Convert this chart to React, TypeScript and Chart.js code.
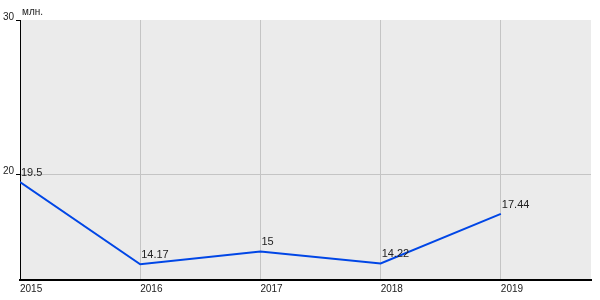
import React, { useEffect, useRef } from "react";
import { Chart, registerables } from "chart.js";

Chart.register(...registerables);

const years = [2015, 2016, 2017, 2018, 2019];
const values = [19.5, 14.17, 15, 14.22, 17.44];
const valueLabels = ["19.5", "14.17", "15", "14.22", "17.44"];
const yTicks = [20, 30];
const unitLabel = "млн.";

const FONT = "Liberation Sans, Arial, sans-serif";

export default function App() {
  const ref = useRef<HTMLCanvasElement | null>(null);
  useEffect(() => {
    document.body.style.margin = "0";
    const canvas = ref.current!;
    const bgPlugin = {
      id: "bg",
      beforeDraw(chart: any) {
        const { ctx, chartArea: a } = chart;
        ctx.save();
        ctx.fillStyle = "#ebebeb";
        ctx.fillRect(a.left, a.top, a.right - a.left, a.bottom - a.top);
        ctx.restore();
      },
      afterDatasetsDraw(chart: any) {
        const { ctx } = chart;
        const meta = chart.getDatasetMeta(0);
        ctx.save();
        ctx.font = "11px " + FONT;
        ctx.fillStyle = "#222";
        ctx.textAlign = "left";
        ctx.textBaseline = "alphabetic";
        meta.data.forEach((p: any, i: number) => {
          ctx.fillText(valueLabels[i], p.x + 1, p.y - 6);
        });
        ctx.font = "10px " + FONT;
        ctx.textBaseline = "middle";
        ctx.fillText(unitLabel, 22, 12);
        ctx.restore();
      },
    };
    const chart = new Chart(canvas, {
      type: "line",
      data: {
        datasets: [
          {
            data: years.map((y, i) => ({ x: y, y: values[i] })),
            borderColor: "#0046e6",
            borderWidth: 2,
            pointRadius: 0,
            tension: 0,
            fill: false,
          },
        ],
      },
      options: {
        animation: false,
        responsive: false,
        layout: { padding: { top: 20, right: 9, left: 0, bottom: 0 } },
        plugins: { legend: { display: false }, tooltip: { enabled: false } },
        scales: {
          x: {
            type: "linear",
            min: 2015,
            max: 2019.75,
            afterBuildTicks(scale: any) {
              scale.ticks = years.map((v) => ({ value: v }));
            },
            afterFit(scale: any) {
              scale.height = 20;
            },
            ticks: {
              align: "start",
              color: "#222",
              font: { family: FONT, size: 10 },
              padding: 3,
              maxRotation: 0,
              callback: (v: any) => String(v),
            },
            grid: {
              color: "#c4c4c4",
              drawTicks: false,
              lineWidth: 1,
            },
            border: { color: "#000", width: 2 },
          },
          y: {
            type: "linear",
            min: 13.15,
            max: 30,
            afterBuildTicks(scale: any) {
              scale.ticks = yTicks.map((v) => ({ value: v }));
            },
            afterFit(scale: any) {
              scale.width = 20;
            },
            ticks: {
              color: "#222",
              font: { family: FONT, size: 10 },
              padding: 2,
              labelOffset: -3,
              callback: (v: any) => String(v),
            },
            grid: {
              color: (c: any) => (c.tick && c.tick.value === 30 ? "rgba(0,0,0,0)" : "#c4c4c4"),
              tickColor: "#000",
              tickLength: 4,
              lineWidth: 1,
            },
            border: { color: "#000", width: 1 },
          },
        },
      },
      plugins: [bgPlugin],
    } as any);
    return () => chart.destroy();
  }, []);
  return <canvas ref={ref} width={600} height={300} style={{ display: "block" }} />;
}
